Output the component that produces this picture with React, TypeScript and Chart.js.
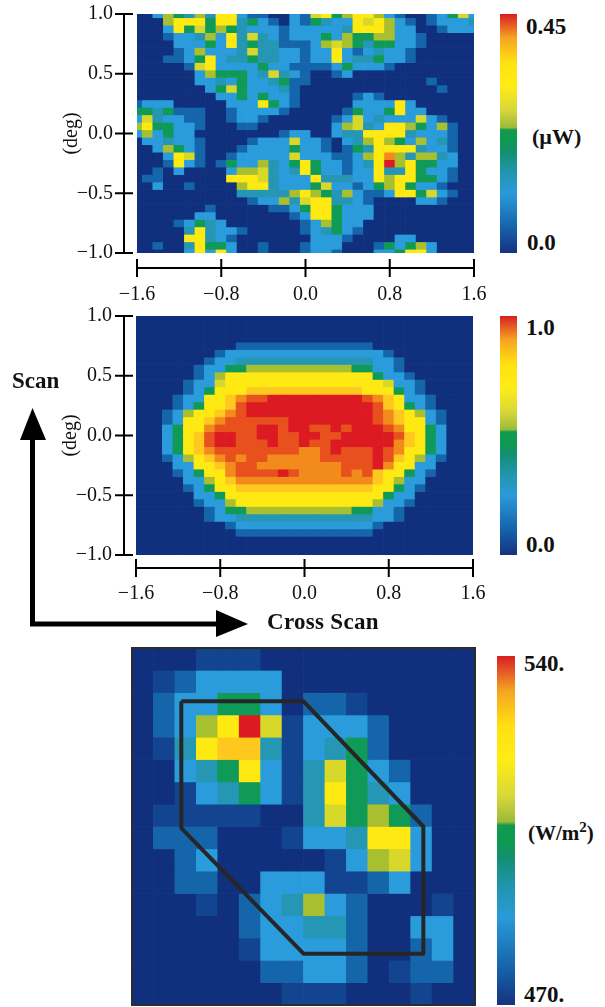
import React, { useEffect, useRef } from "react";
import { Chart, registerables } from "chart.js";

Chart.register(...registerables);

// Level codes used by the three maps, weakest to strongest.
const levelCodes = "0z123456789ab";
const levelColors = [
  "#10307d", "#12448f", "#1565aa", "#2a9cdc", "#2596b4", "#0f9a58", "#a8bf30",
  "#d8d82a", "#ffe912", "#ffc81e", "#f28a1c", "#e8501e", "#dc1a22",
];

// Colour bar ramp
const rampPositions = [0, 0.1, 0.25, 0.33, 0.42, 0.47, 0.515, 0.525, 0.6, 0.7, 0.8, 0.9, 1];
const rampColors = [
  "#17327f", "#1560a8", "#2a9ad8", "#2196b4", "#148f72", "#0e9a4e", "#0f9a50",
  "#9cba3a", "#d8d838", "#ffec14", "#ffe012", "#f6a422", "#d81e24",
];

const crossScanTicks = [-1.6, -0.8, 0, 0.8, 1.6];
const scanTicks = [-1, -0.5, 0, 0.5, 1];

// Panel 1: received power, top row first; columns from -1.6 to 1.6 deg
const powerRows = [
  "002543537721100216745775210012462",
  "000577747734210214322767521012223",
  "000274645432221222223777522001222",
  "000122352736321222425445522100000",
  "000022242734331112565434422100000",
  "000012522236332212272123221000000",
  "000112472334332212272334221000000",
  "000001672222422111124222100000000",
  "000000254442363210012000000000000",
  "000000223242234110000000000010000",
  "000000024642223100000000000001000",
  "000000002242422100000121000000000",
  "122200000222742100000222272000000",
  "443411100122221000001422472200000",
  "263221100122100000012623222621000",
  "574422100011000000025632775425100",
  "252422000000001220023377773222100",
  "022322100001222622102357542523100",
  "002542100012222422101437777322100",
  "000276100122222622211257953553200",
  "000172101422532474221237b57442200",
  "001020000255632374221227337422100",
  "011000000777632227333227577442100",
  "002001000057732224622124574221000",
  "000000000033333575435211277462100",
  "000000000001225367733210000221000",
  "000000010000011247742220000000000",
  "000000220000000127742220000000000",
  "000012432000000012542200000000000",
  "000003732210000012342100000000000",
  "000007732100000002221000022000000",
  "001003744200100012220001424520000",
  "000002727200100012210002247720000",
];

// Panel 2: normalised beam pattern
const beamRows = [
  "000000000000000000000000000000000",
  "000000000000000000000000000000000",
  "000000000000000000000000000000000",
  "000000000000000000000000000000000",
  "000000000011111111111110000000000",
  "000000001222222222222222100000000",
  "000000012233333333333332210000000",
  "000000122445555555555442210000000",
  "000000125777777777777774221000000",
  "000001226777777777777777622100000",
  "000001247778888888888877742100000",
  "00001227789aabbbbbbbbba9872210000",
  "0000124778abbbbbbbbbbbba874210000",
  "0001257789abbbbbbbbbbbba987521000",
  "000127789aaaaaabbbbbbbba987721000",
  "00024779aaaabbabbaababbba97742000",
  "0002478abbaabbaabbaabbbbba8742000",
  "0002478abbaaabaabaabbbbbb98742000",
  "00024789aaaaaaaa99abaaaba97742000",
  "000125789a9aa99999aaaaaba87521000",
  "0000227789aa99999999aaab977220000",
  "0000124779aaaaba9999a9a8774210000",
  "000002257899999999999998752200000",
  "000001247788888888888887742100000",
  "000000224777777777777777422000000",
  "000000122577777777777775221000000",
  "000000012445555555555442210000000",
  "000000012233333333333332210000000",
  "000000000122222222222221000000000",
  "000000000011111111111110000000000",
  "000000000000000000000000000000000",
  "000000000000000000000000000000000",
  "000000000000000000000000000000000",
];

// Panel 3: flux map, 16 x 16 cells, top row first
const fluxRows = [
  "000zzz0000000000",
  "0z12222000000000",
  "0122442011z00000",
  "01257b6z22210000",
  "0z37883z23410000",
  "0023472z36421000",
  "00z2342z37432000",
  "0zzzzz0036454100",
  "0111000z22377200",
  "001200000z256200",
  "001100222zz12000",
  "000z0123521000z0",
  "0000012233100220",
  "00000z2222100120",
  "000000112210z110",
  "0000000zzz000z00",
];

// Outline drawn on panel 3, in map cells
const outlineX = [2.3, 8.0, 13.59, 13.59, 8.0, 2.3, 2.3];
const outlineY = [13.61, 13.61, 8.0, 2.3, 2.3, 7.93, 13.61];

const serif = "'Liberation Serif', serif";
const tickFont = { family: serif, size: 20 };

const minusLabel = (v: number) => (v < 0 ? "\u2212" : "") + Math.abs(v).toFixed(1);

const gridCentres = (low: number, step: number, count: number) =>
  Array.from({ length: count }, (_, k) => Math.round((low + step * k) * 10000) / 10000);

function rowDatasets(rows: string[], xs: number[], ys: number[], halfRow: number) {
  return rows.map((row, r) => ({
    type: "bar",
    grouped: false,
    order: 2,
    barPercentage: 1,
    categoryPercentage: 1,
    data: xs.map((x) => ({ x, y: [ys[r] - halfRow, ys[r] + halfRow] })),
    backgroundColor: xs.map((_, k) => levelColors[Math.max(0, levelCodes.indexOf(row[k] ?? "0"))]),
  }));
}

const axisFrame = {
  id: "axisFrame",
  afterDraw(chart: any, _args: any, opts: any) {
    const { ctx, chartArea: a, scales } = chart;
    ctx.save();
    ctx.strokeStyle = "#000";
    ctx.lineWidth = 2;
    const line = (x0: number, y0: number, x1: number, y1: number) => {
      ctx.beginPath();
      ctx.moveTo(x0, y0);
      ctx.lineTo(x1, y1);
      ctx.stroke();
    };
    const yx = a.left - opts.yGap;
    const xy = a.bottom + opts.xGap;
    line(yx, a.top, yx, a.bottom + 1);
    line(a.left, xy, a.right, xy);
    scanTicks.forEach((v) => {
      const p = scales.y.getPixelForValue(v);
      line(yx - 9, p, yx + 9, p);
    });
    crossScanTicks.forEach((v) => {
      const p = scales.x.getPixelForValue(v);
      line(p, xy - 9, p, xy + 9);
    });
    ctx.restore();
  },
};

const frameBox = {
  id: "frameBox",
  afterDatasetsDraw(chart: any) {
    const { ctx, chartArea: a } = chart;
    ctx.save();
    ctx.strokeStyle = "#2c2c2c";
    ctx.lineWidth = 2;
    ctx.strokeRect(a.left, a.top, a.right - a.left, a.bottom - a.top);
    ctx.restore();
  },
};

function mapConfig(rows: string[], pad: any, yWidth: number, xHeight: number, gaps: any) {
  const xs = gridCentres(-1.6, 0.1, 33);
  const ys = gridCentres(1, -0.0625, 33);
  return {
    type: "bar",
    data: { datasets: rowDatasets(rows, xs, ys, 0.03125) },
    plugins: [axisFrame],
    options: {
      animation: false,
      responsive: false,
      devicePixelRatio: 1,
      layout: { padding: pad },
      plugins: { legend: { display: false }, tooltip: { enabled: false }, axisFrame: gaps },
      scales: {
        x: {
          type: "linear",
          min: -1.6,
          max: 1.6,
          offset: false,
          afterBuildTicks: (s: any) => {
            s.ticks = crossScanTicks.map((value) => ({ value }));
          },
          afterFit: (s: any) => {
            s.height = xHeight;
            s.paddingLeft = 0;
            s.paddingRight = 0;
          },
          grid: { display: false, drawTicks: false },
          border: { display: false },
          ticks: {
            color: "#111",
            font: tickFont,
            padding: gaps.xPad,
            maxRotation: 0,
            autoSkip: false,
            callback: (v: number) => minusLabel(v),
          },
        },
        y: {
          type: "linear",
          min: -1,
          max: 1,
          afterBuildTicks: (s: any) => {
            s.ticks = scanTicks.map((value) => ({ value }));
          },
          afterFit: (s: any) => {
            s.width = yWidth;
            s.paddingTop = 0;
            s.paddingBottom = 0;
          },
          grid: { display: false, drawTicks: false },
          border: { display: false },
          title: { display: true, text: "(deg)", color: "#111", font: tickFont, padding: 0 },
          ticks: {
            color: "#111",
            font: tickFont,
            padding: gaps.yPad,
            autoSkip: false,
            callback: (v: number) => minusLabel(v),
          },
        },
      },
    },
  };
}

function fluxConfig() {
  const xs = gridCentres(0.5, 1, 16);
  const ys = gridCentres(15.5, -1, 16);
  return {
    type: "bar",
    data: {
      datasets: [
        {
          type: "line",
          order: 1,
          data: outlineX.map((x, i) => ({ x, y: outlineY[i] })),
          borderColor: "#262626",
          borderWidth: 4,
          borderJoinStyle: "round",
          pointRadius: 0,
          tension: 0,
          fill: false,
        },
        ...rowDatasets(fluxRows, xs, ys, 0.5),
      ],
    },
    plugins: [frameBox],
    options: {
      animation: false,
      responsive: false,
      devicePixelRatio: 1,
      layout: { padding: { left: 7, top: 8, right: 10, bottom: 2 } },
      plugins: { legend: { display: false }, tooltip: { enabled: false } },
      scales: {
        x: { type: "linear", min: 0, max: 16, offset: false, display: false },
        y: { type: "linear", min: 0, max: 16, display: false },
      },
    },
  };
}

function barConfig(low: number, high: number) {
  return {
    type: "bar",
    data: {
      labels: ["scale"],
      datasets: [
        {
          data: [[low, high]],
          barPercentage: 1,
          categoryPercentage: 1,
          backgroundColor: (c: any) => {
            const a = c.chart.chartArea;
            if (!a) return rampColors[0];
            const g = c.chart.ctx.createLinearGradient(0, a.bottom, 0, a.top);
            rampPositions.forEach((p, i) => g.addColorStop(p, rampColors[i]));
            return g;
          },
        },
      ],
    },
    options: {
      animation: false,
      responsive: false,
      devicePixelRatio: 1,
      plugins: { legend: { display: false }, tooltip: { enabled: false } },
      scales: {
        x: { display: false },
        y: { display: false, min: low, max: high },
      },
    },
  };
}

function Plot({ left, top, width, height, config }: any) {
  const ref = useRef<HTMLCanvasElement>(null);
  useEffect(() => {
    const chart = new Chart(ref.current as HTMLCanvasElement, config);
    return () => chart.destroy();
  }, []);
  return (
    <canvas
      ref={ref}
      width={width}
      height={height}
      style={{ position: "absolute", left, top, width, height, display: "block" }}
    />
  );
}

function Label({ left, cy, size = 23, spacing = 0, children }: any) {
  return (
    <div
      style={{
        position: "absolute",
        left,
        top: cy - 20,
        height: 40,
        lineHeight: "40px",
        fontFamily: serif,
        fontWeight: 700,
        fontSize: size,
        letterSpacing: spacing,
        color: "#111",
        whiteSpace: "nowrap",
      }}
    >
      {children}
    </div>
  );
}

export default function App() {
  return (
    <div
      style={{
        position: "absolute",
        left: 0,
        top: 0,
        width: 605,
        height: 1007,
        background: "#fff",
        overflow: "hidden",
      }}
    >
      <Plot
        left={0}
        top={0}
        width={490}
        height={305}
        config={mapConfig(powerRows, { left: 60, top: 14, right: 16, bottom: 0 }, 77, 52, {
          yGap: 13,
          xGap: 15,
          xPad: 30,
          yPad: 24,
        })}
      />
      <Plot
        left={0}
        top={305}
        width={490}
        height={320}
        config={mapConfig(beamRows, { left: 59, top: 11, right: 17, bottom: 0 }, 77, 70, {
          yGap: 12,
          xGap: 13,
          xPad: 27,
          yPad: 24,
        })}
      />
      <Plot left={125} top={640} width={360} height={367} config={fluxConfig()} />

      <Plot left={500} top={14} width={17} height={239} config={barConfig(0, 0.45)} />
      <Plot left={500} top={316} width={17} height={239} config={barConfig(0, 1)} />
      <Plot left={497} top={656} width={18} height={349} config={barConfig(470, 540)} />

      <Label left={526} cy={27}>0.45</Label>
      <Label left={532} cy={137} size={22}>(µW)</Label>
      <Label left={527} cy={243}>0.0</Label>
      <Label left={526} cy={328}>1.0</Label>
      <Label left={526} cy={545}>0.0</Label>
      <Label left={524} cy={664}>540.</Label>
      <Label left={528} cy={833} size={21}>
        (W/m<sup style={{ fontSize: 15, lineHeight: 0 }}>2</sup>)
      </Label>
      <Label left={524} cy={995}>470.</Label>

      <Label left={12} cy={381}>Scan</Label>
      <Label left={267} cy={622} spacing={0.3}>Cross Scan</Label>

      <svg width={605} height={1007} style={{ position: "absolute", left: 0, top: 0, pointerEvents: "none" }}>
        <path d="M32.5 440 V624 H216" fill="none" stroke="#000" strokeWidth={5} />
        <polygon points="32.5,408 20,440 46,440" fill="#000" />
        <polygon points="248,624 216,610 216,637" fill="#000" />
      </svg>
    </div>
  );
}
